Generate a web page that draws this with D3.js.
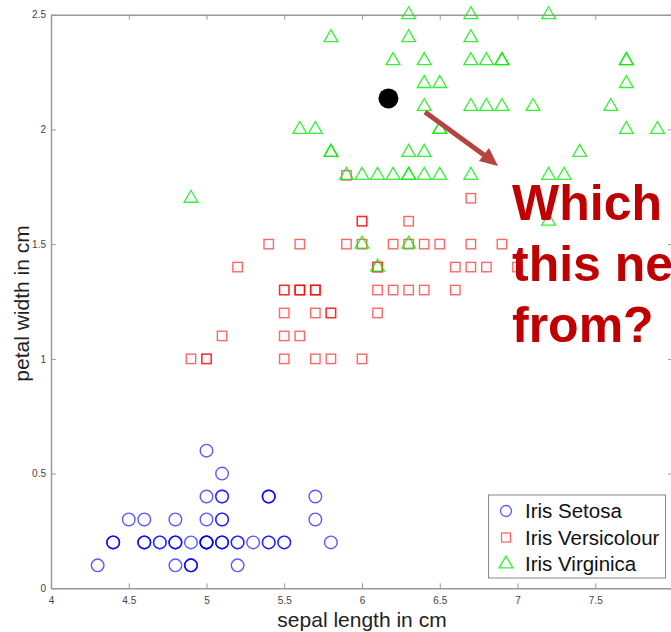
<!DOCTYPE html>
<meta charset="utf-8">
<style>
  body { margin: 0; background: #fff; }
  text { font-family: "Liberation Sans", Arial, sans-serif; }
  .tick text { font-size: 10px; fill: #444; }
  .domain, .tick line { stroke: #999; }
</style>
<body>
<svg width="671" height="632"></svg>
<script src="https://d3js.org/d3.v7.min.js"></script>
<script>
// Iris data: sepal length (cm), petal width (cm)
const setosaX = [5.1,4.9,4.7,4.6,5.0,5.4,4.6,5.0,4.4,4.9,5.4,4.8,4.8,4.3,5.8,5.7,5.4,5.1,5.7,5.1,5.4,5.1,4.6,5.1,4.8,5.0,5.0,5.2,5.2,4.7,4.8,5.4,5.2,5.5,4.9,5.0,5.5,4.9,4.4,5.1,5.0,4.5,4.4,5.0,5.1,4.8,5.1,4.6,5.3,5.0];
const setosaY = [0.2,0.2,0.2,0.2,0.2,0.4,0.3,0.2,0.2,0.1,0.2,0.2,0.1,0.1,0.2,0.4,0.4,0.3,0.3,0.3,0.2,0.4,0.2,0.5,0.2,0.2,0.4,0.2,0.2,0.2,0.2,0.4,0.1,0.2,0.1,0.2,0.2,0.1,0.2,0.2,0.3,0.3,0.2,0.6,0.4,0.3,0.2,0.2,0.2,0.2];
const versicolourX = [7.0,6.4,6.9,5.5,6.5,5.7,6.3,4.9,6.6,5.2,5.0,5.9,6.0,6.1,5.6,6.7,5.6,5.8,6.2,5.6,5.9,6.1,6.3,6.1,6.4,6.6,6.8,6.7,6.0,5.7,5.5,5.5,5.8,6.0,5.4,6.0,6.7,6.3,5.6,5.5,5.5,6.1,5.8,5.0,5.6,5.7,5.7,6.2,5.1,5.7];
const versicolourY = [1.4,1.5,1.5,1.3,1.5,1.3,1.6,1.0,1.3,1.4,1.0,1.5,1.0,1.4,1.3,1.4,1.5,1.0,1.5,1.1,1.8,1.3,1.5,1.2,1.3,1.4,1.4,1.7,1.5,1.0,1.1,1.0,1.2,1.6,1.5,1.6,1.5,1.3,1.3,1.3,1.2,1.4,1.2,1.0,1.3,1.2,1.3,1.3,1.1,1.3];
const virginicaX = [6.3,5.8,7.1,6.3,6.5,7.6,4.9,7.3,6.7,7.2,6.5,6.4,6.8,5.7,5.8,6.4,6.5,7.7,7.7,6.0,6.9,5.6,7.7,6.3,6.7,7.2,6.2,6.1,6.4,7.2,7.4,7.9,6.4,6.3,6.1,7.7,6.3,6.4,6.0,6.9,6.7,6.9,5.8,6.8,6.7,6.7,6.3,6.5,6.2,5.9];
const virginicaY = [2.5,1.9,2.1,1.8,2.2,2.1,1.7,1.8,1.8,2.5,2.0,1.9,2.1,2.0,2.4,2.3,1.8,2.2,2.3,1.5,2.3,2.0,2.0,1.8,2.1,1.8,1.8,1.8,2.1,1.6,1.9,2.0,2.2,1.5,1.4,2.3,2.4,1.8,1.8,2.1,2.4,2.3,1.9,2.3,2.5,2.3,1.9,2.0,2.3,1.8];

// the new, unlabelled sample
const newPoint = [6.17, 2.135];

const xTicks = [4, 4.5, 5, 5.5, 6, 6.5, 7, 7.5, 8];
const yTicks = [0, 0.5, 1, 1.5, 2, 2.5];
const legendLabels = ['Iris Setosa', 'Iris Versicolour', 'Iris Virginica'];

const svg = d3.select('svg');

const pLeft = 51, pRight = 673, pTop = 14.7, pBottom = 588.3;
const x = d3.scaleLinear().domain([4, 8]).range([pLeft, pRight]);
const y = d3.scaleLinear().domain([0, 2.5]).range([pBottom, pTop]);

// box axes, ticks pointing inwards like matlab
const fmt = d => String(d);
svg.append('g').attr('transform', `translate(0,${pBottom})`)
  .call(d3.axisBottom(x).tickValues(xTicks).tickFormat(fmt).tickSizeInner(-5).tickSizeOuter(0).tickPadding(9));
svg.append('g').attr('transform', `translate(0,${pTop})`)
  .call(d3.axisTop(x).tickValues(xTicks).tickFormat('').tickSizeInner(-5).tickSizeOuter(0));
svg.append('g').attr('transform', `translate(${pLeft},0)`)
  .call(d3.axisLeft(y).tickValues(yTicks).tickFormat(fmt).tickSizeInner(-5).tickSizeOuter(0).tickPadding(5));
svg.append('g').attr('transform', `translate(${pRight},0)`)
  .call(d3.axisRight(y).tickValues(yTicks).tickFormat('').tickSizeInner(-5).tickSizeOuter(0));
svg.selectAll('.domain').attr('stroke', '#aaa').attr('stroke-width', 1.5);

// axis labels
svg.append('text')
  .attr('x', (pLeft + pRight) / 2).attr('y', 627)
  .attr('text-anchor', 'middle').attr('font-size', 21).attr('fill', '#222')
  .text('sepal length in cm');
svg.append('text')
  .attr('transform', `translate(29,${(pTop + pBottom) / 2 + 2}) rotate(-90)`)
  .attr('text-anchor', 'middle').attr('font-size', 21).attr('fill', '#222')
  .text('petal width in cm');

const zip = (xs, ys) => xs.map((v, i) => [v, ys[i]]);

// setosa: circles
svg.append('g').selectAll('circle')
  .data(zip(setosaX, setosaY))
  .join('circle')
  .attr('cx', d => x(d[0])).attr('cy', d => y(d[1])).attr('r', 6.3)
  .attr('fill', 'none').attr('stroke', '#0000ff').attr('stroke-opacity', 0.65).attr('stroke-width', 1.4);

// versicolour: squares
svg.append('g').selectAll('rect')
  .data(zip(versicolourX, versicolourY))
  .join('rect')
  .attr('x', d => x(d[0]) - 4.7).attr('y', d => y(d[1]) - 4.7)
  .attr('width', 9.4).attr('height', 9.4)
  .attr('fill', 'none').attr('stroke', '#ff0000').attr('stroke-opacity', 0.6).attr('stroke-width', 1.4);

// virginica: triangles
const tri = d3.symbol().type(d3.symbolTriangle).size(82);
svg.append('g').selectAll('path')
  .data(zip(virginicaX, virginicaY))
  .join('path')
  .attr('d', tri)
  .attr('transform', d => `translate(${x(d[0])},${y(d[1])})`)
  .attr('fill', 'none').attr('stroke', '#00ee00').attr('stroke-opacity', 0.8).attr('stroke-width', 1.3);

// legend
const lg = svg.append('g').attr('transform', 'translate(488.5,495)');
lg.append('rect').attr('width', 177).attr('height', 83)
  .attr('fill', '#fff').attr('stroke', '#888').attr('stroke-width', 1);
const rows = lg.selectAll('g.row').data(legendLabels).join('g')
  .attr('class', 'row')
  .attr('transform', (d, i) => `translate(17.5,${16 + i * 26.5})`);
rows.filter((d, i) => i === 0).append('circle').attr('r', 5.5)
  .attr('fill', 'none').attr('stroke', '#0000ff').attr('stroke-opacity', 0.65).attr('stroke-width', 1.3);
rows.filter((d, i) => i === 1).append('rect').attr('x', -4.5).attr('y', -4.5).attr('width', 9).attr('height', 9)
  .attr('fill', 'none').attr('stroke', '#ff0000').attr('stroke-opacity', 0.6).attr('stroke-width', 1.3);
rows.filter((d, i) => i === 2).append('path').attr('d', tri)
  .attr('fill', 'none').attr('stroke', '#00ee00').attr('stroke-opacity', 0.8).attr('stroke-width', 1.3);
rows.append('text').attr('x', 19).attr('y', 7)
  .attr('font-size', 20.5).attr('fill', '#111').text(d => d);

// the new point and the question
svg.append('circle')
  .attr('cx', x(newPoint[0])).attr('cy', y(newPoint[1])).attr('r', 10)
  .attr('fill', '#000');

const arrowColor = '#b5443f';
svg.append('line')
  .attr('x1', 425).attr('y1', 112).attr('x2', 484).attr('y2', 155)
  .attr('stroke', arrowColor).attr('stroke-width', 5);
svg.append('path')
  .attr('d', 'M498,166 L479,161 L489,148 Z')
  .attr('fill', arrowColor);

const q = svg.append('text')
  .attr('x', 512).attr('font-size', 50).attr('font-weight', 'bold').attr('fill', '#c00000');
['Which', 'this ne', 'from?'].forEach((t, i) => {
  q.append('tspan').attr('x', 512).attr('y', 220 + i * 61).text(t);
});
</script>
</body>
